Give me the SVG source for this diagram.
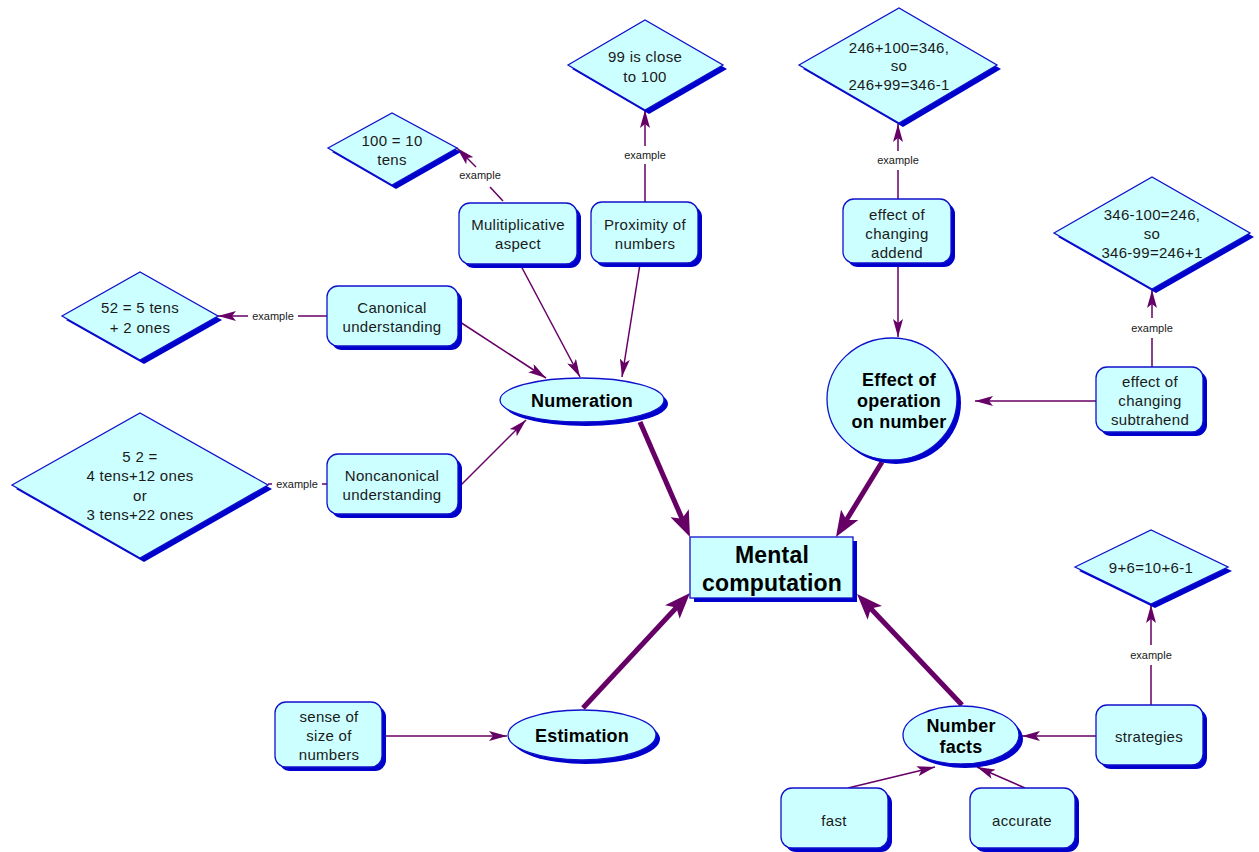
<svg xmlns="http://www.w3.org/2000/svg" width="1259" height="852" viewBox="0 0 1259 852">
<style>
.sh{fill:#0000cc;stroke:none}
.nd{fill:#ccffff;stroke:#1010cc;stroke-width:1.3}
.t{font-family:"Liberation Sans",Arial,sans-serif;font-size:15px;letter-spacing:0.3px;fill:#1a1a1a;text-anchor:middle;dominant-baseline:central}
.b{font-weight:bold;font-size:18px;letter-spacing:0.2px;fill:#000}
.big{font-size:23px}
.lb{font-family:"Liberation Sans",Arial,sans-serif;font-size:11px;fill:#1a1a1a;text-anchor:middle;dominant-baseline:central}
.c{stroke:#660066;stroke-width:1.5;fill:none}
.ct{stroke:#660066;stroke-width:5;fill:none}
</style>
<defs>
<marker id="a" viewBox="0 0 18 10" refX="18" refY="5" markerWidth="18" markerHeight="10" markerUnits="userSpaceOnUse" orient="auto"><path d="M0,0 L18,5 L0,10 L4,5 z" fill="#660066"/></marker>
<marker id="A" viewBox="0 0 26 20" refX="16" refY="10" markerWidth="26" markerHeight="20" markerUnits="userSpaceOnUse" orient="auto"><path d="M0,0 L26,10 L0,20 L6,10 z" fill="#660066"/></marker>
</defs>
<rect width="1259" height="852" fill="#fff"/>

<g id="connectors">
<line class="ct" x1="640" y1="422" x2="686" y2="527.8" marker-end="url(#A)"/>
<line class="ct" x1="882" y1="462" x2="841.2" y2="528.5" marker-end="url(#A)"/>
<line class="ct" x1="583" y1="708" x2="683.2" y2="600.3" marker-end="url(#A)"/>
<line class="ct" x1="962" y1="705" x2="863.9" y2="601.3" marker-end="url(#A)"/>
<line class="c" x1="520" y1="264" x2="580" y2="377" marker-end="url(#a)"/>
<line class="c" x1="640" y1="264" x2="622" y2="377" marker-end="url(#a)"/>
<line class="c" x1="460" y1="322" x2="546" y2="378" marker-end="url(#a)"/>
<line class="c" x1="460" y1="486" x2="526" y2="420" marker-end="url(#a)"/>
<line class="c" x1="503" y1="201" x2="490" y2="187"/>
<line class="c" x1="476" y1="167" x2="457" y2="148" marker-end="url(#a)"/>
<text class="lb" x="480" y="175">example</text>
<line class="c" x1="645" y1="202" x2="645" y2="164"/>
<line class="c" x1="645" y1="146" x2="645" y2="110" marker-end="url(#a)"/>
<text class="lb" x="645" y="155">example</text>
<line class="c" x1="327" y1="316" x2="298" y2="316"/>
<line class="c" x1="248" y1="316" x2="218" y2="316" marker-end="url(#a)"/>
<text class="lb" x="273" y="316">example</text>
<line class="c" x1="327" y1="484" x2="322" y2="484"/>
<line class="c" x1="272" y1="484" x2="268" y2="484"/>
<text class="lb" x="297" y="484">example</text>
<line class="c" x1="898" y1="199" x2="898" y2="170"/>
<line class="c" x1="898" y1="151" x2="898" y2="124" marker-end="url(#a)"/>
<text class="lb" x="898" y="160">example</text>
<line class="c" x1="898" y1="263" x2="898" y2="337" marker-end="url(#a)"/>
<line class="c" x1="1096" y1="401" x2="975" y2="401" marker-end="url(#a)"/>
<line class="c" x1="1152" y1="367" x2="1152" y2="338"/>
<line class="c" x1="1152" y1="318" x2="1152" y2="290" marker-end="url(#a)"/>
<text class="lb" x="1152" y="328">example</text>
<line class="c" x1="1151" y1="705" x2="1151" y2="665"/>
<line class="c" x1="1151" y1="645" x2="1151" y2="605" marker-end="url(#a)"/>
<text class="lb" x="1151" y="655">example</text>
<line class="c" x1="1096" y1="736" x2="1022" y2="736" marker-end="url(#a)"/>
<line class="c" x1="382" y1="736" x2="507" y2="736" marker-end="url(#a)"/>
<line class="c" x1="848" y1="788" x2="935" y2="767" marker-end="url(#a)"/>
<line class="c" x1="1025" y1="788" x2="977" y2="767" marker-end="url(#a)"/>
</g>

<g id="mental">
<rect class="sh" x="694" y="541" width="163" height="61"/>
<rect class="nd" x="690" y="537" width="163" height="61"/>
<text class="t b big" x="772" y="555">Mental</text>
<text class="t b big" x="772" y="583">computation</text>
</g>

<g id="numeration">
<ellipse class="sh" cx="586" cy="404" rx="82" ry="22"/>
<ellipse class="nd" cx="582" cy="400" rx="82" ry="22"/>
<text class="t b" x="582" y="401">Numeration</text>
</g>

<g id="effect">
<ellipse class="sh" cx="896" cy="403" rx="65" ry="61"/>
<ellipse class="nd" cx="892" cy="399" rx="65" ry="61"/>
<text class="t b" x="899" y="380">Effect of</text>
<text class="t b" x="899" y="401">operation</text>
<text class="t b" x="899" y="422">on number</text>
</g>

<g id="estimation">
<ellipse class="sh" cx="586" cy="739" rx="74" ry="25"/>
<ellipse class="nd" cx="582" cy="735" rx="74" ry="25"/>
<text class="t b" x="582" y="736">Estimation</text>
</g>

<g id="numberfacts">
<ellipse class="sh" cx="965" cy="739" rx="58" ry="29"/>
<ellipse class="nd" cx="961" cy="735" rx="58" ry="29"/>
<text class="t b" x="961" y="726">Number</text>
<text class="t b" x="961" y="747">facts</text>
</g>

<g id="multiplicative">
<rect class="sh" x="463" y="207" width="118" height="61" rx="11"/>
<rect class="nd" x="459" y="203" width="118" height="61" rx="11"/>
<text class="t" x="518" y="224">Mulitiplicative</text>
<text class="t" x="518" y="243">aspect</text>
</g>

<g id="proximity">
<rect class="sh" x="595" y="206" width="107" height="61" rx="11"/>
<rect class="nd" x="591" y="202" width="107" height="61" rx="11"/>
<text class="t" x="645" y="224">Proximity of</text>
<text class="t" x="645" y="243">numbers</text>
</g>

<g id="canonical">
<rect class="sh" x="331" y="290" width="131" height="60" rx="11"/>
<rect class="nd" x="327" y="286" width="131" height="60" rx="11"/>
<text class="t" x="392" y="307">Canonical</text>
<text class="t" x="392" y="326">understanding</text>
</g>

<g id="noncanonical">
<rect class="sh" x="331" y="458" width="131" height="60" rx="11"/>
<rect class="nd" x="327" y="454" width="131" height="60" rx="11"/>
<text class="t" x="392" y="475">Noncanonical</text>
<text class="t" x="392" y="494">understanding</text>
</g>

<g id="addend">
<rect class="sh" x="847" y="203" width="108" height="64" rx="11"/>
<rect class="nd" x="843" y="199" width="108" height="64" rx="11"/>
<text class="t" x="897" y="214">effect of</text>
<text class="t" x="897" y="233">changing</text>
<text class="t" x="897" y="252">addend</text>
</g>

<g id="subtrahend">
<rect class="sh" x="1100" y="371" width="107" height="65" rx="11"/>
<rect class="nd" x="1096" y="367" width="107" height="65" rx="11"/>
<text class="t" x="1150" y="381">effect of</text>
<text class="t" x="1150" y="400">changing</text>
<text class="t" x="1150" y="419">subtrahend</text>
</g>

<g id="strategies">
<rect class="sh" x="1100" y="709" width="107" height="60" rx="11"/>
<rect class="nd" x="1096" y="705" width="107" height="60" rx="11"/>
<text class="t" x="1149" y="736">strategies</text>
</g>

<g id="sense">
<rect class="sh" x="279" y="706" width="107" height="65" rx="11"/>
<rect class="nd" x="275" y="702" width="107" height="65" rx="11"/>
<text class="t" x="329" y="716">sense of</text>
<text class="t" x="329" y="735">size of</text>
<text class="t" x="329" y="754">numbers</text>
</g>

<g id="fast">
<rect class="sh" x="785" y="792" width="107" height="60" rx="11"/>
<rect class="nd" x="781" y="788" width="107" height="60" rx="11"/>
<text class="t" x="834" y="820">fast</text>
</g>

<g id="accurate">
<rect class="sh" x="974" y="792" width="105" height="60" rx="11"/>
<rect class="nd" x="970" y="788" width="105" height="60" rx="11"/>
<text class="t" x="1022" y="820">accurate</text>
</g>

<g id="d100">
<polygon class="sh" points="332,152 396,117 461,152 396,189"/>
<polygon class="nd" points="328,148 392,113 457,148 392,185"/>
<text class="t" x="392" y="140">100 = 10</text>
<text class="t" x="392" y="159">tens</text>
</g>

<g id="d99">
<polygon class="sh" points="572,69 649,24 727,69 649,114"/>
<polygon class="nd" points="568,65 645,20 723,65 645,110"/>
<text class="t" x="645" y="56">99 is close</text>
<text class="t" x="645" y="76">to 100</text>
</g>

<g id="d246">
<polygon class="sh" points="803,69 903,12 1001,69 903,127"/>
<polygon class="nd" points="799,65 899,8 997,65 899,123"/>
<text class="t" x="899" y="47">246+100=346,</text>
<text class="t" x="899" y="65">so</text>
<text class="t" x="899" y="84">246+99=346-1</text>
</g>

<g id="d346">
<polygon class="sh" points="1058,237 1156,181 1254,237 1156,293"/>
<polygon class="nd" points="1054,233 1152,177 1250,233 1152,289"/>
<text class="t" x="1152" y="214">346-100=246,</text>
<text class="t" x="1152" y="233">so</text>
<text class="t" x="1152" y="252">346-99=246+1</text>
</g>

<g id="d52">
<polygon class="sh" points="66,320 144,276 222,320 144,364"/>
<polygon class="nd" points="62,316 140,272 218,316 140,360"/>
<text class="t" x="140" y="307">52 = 5 tens</text>
<text class="t" x="140" y="327">+ 2 ones</text>
</g>

<g id="d52b">
<polygon class="sh" points="16,489 144,417 272,489 144,562"/>
<polygon class="nd" points="12,485 140,413 268,485 140,558"/>
<text class="t" x="140" y="456">5 2 =</text>
<text class="t" x="140" y="475">4 tens+12 ones</text>
<text class="t" x="140" y="495">or</text>
<text class="t" x="140" y="514">3 tens+22 ones</text>
</g>

<g id="d96">
<polygon class="sh" points="1079,571 1155,534 1232,571 1155,608"/>
<polygon class="nd" points="1075,567 1151,530 1228,567 1151,604"/>
<text class="t" x="1151" y="567">9+6=10+6-1</text>
</g>
</svg>
